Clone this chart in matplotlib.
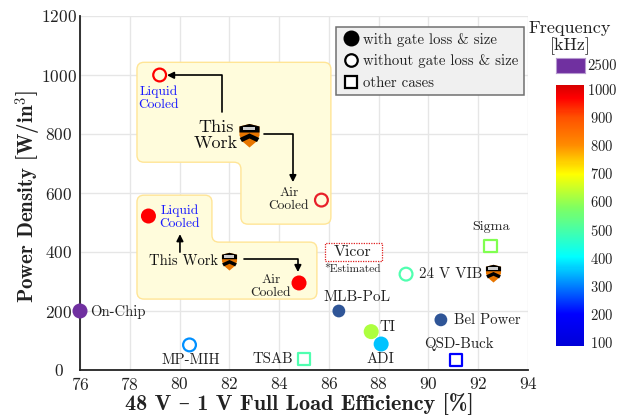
import numpy as np
import matplotlib
matplotlib.use('Agg')
import matplotlib.pyplot as plt
from matplotlib.path import Path
from matplotlib.patches import PathPatch, Rectangle
from matplotlib.lines import Line2D
from matplotlib.cm import ScalarMappable
from matplotlib.colors import LinearSegmentedColormap, Normalize

plt.rcParams['font.family'] = ['cmr10', 'DejaVu Serif']
plt.rcParams['mathtext.fontset'] = 'cm'
plt.rcParams['axes.unicode_minus'] = False
plt.rcParams['axes.formatter.use_mathtext'] = True

# filled circles: with gate loss & size
filled_x = [78.75, 84.8, 76.0, 86.4, 87.7, 88.1, 90.5]
filled_y = [522, 295, 200, 200, 130, 88, 170]
filled_c = ['#ff0000', '#ff0000', '#7030a0', '#2f5597', '#adff3f', '#00c3ff', '#2f5597']
filled_s = [117, 117, 117, 85, 117, 117, 85]

# open circles: without gate loss & size
open_x = [79.2, 85.7, 80.4, 89.1]
open_y = [1000, 576, 85, 325]
open_c = ['#ff0000', '#e8202a', '#0090ff', '#50ffb0']

# squares: other cases
square_x = [85.0, 91.1, 92.5]
square_y = [37, 33, 420]
square_c = ['#50ffb0', '#0000ff', '#80ff50']

# princeton shield positions
shield_x = [82.8, 82.0, 92.6]
shield_y = [797, 370, 330]
shield_s = [300, 170, 170]

freq_ticks = [100, 200, 300, 400, 500, 600, 700, 800, 900, 1000]
jet_colors = ['#0000d8', '#0000ff', '#00ffff', '#80ff60', '#ffff00', '#ff8c00', '#ff5000', '#ff0000', '#d80000']
jet_stops = [0.0, 0.12, 0.34, 0.53, 0.66, 0.77, 0.88, 0.95, 1.0]


def px(x, y):
    # reference pixel -> data coords
    return 76 + (x - 80) / 24.9, (370 - y) / 0.2953


fig = plt.figure(figsize=(6.25, 4.16), dpi=100)
ax = fig.add_axes([80 / 625, 46 / 416, 448 / 625, 354 / 416])
ax.set_xlim(76, 94)
ax.set_ylim(0, 1200)
ax.set_xticks(range(76, 95, 2))
ax.set_yticks(range(0, 1201, 200))
ax.grid(color='#e6e6e6', lw=1)
ax.set_axisbelow(True)
ax.tick_params(length=0, labelsize=12.5, labelcolor='#222222')
ax.tick_params(axis='x', pad=4.5)
ax.tick_params(axis='y', pad=15.5)
for t in ax.get_yticklabels():
    t.set_ha('center')
for s in ['top', 'right']:
    ax.spines[s].set_visible(False)
for s in ['left', 'bottom']:
    ax.spines[s].set_linewidth(1.3)
    ax.spines[s].set_color('#222222')
ax.set_xlabel('48 V \u2013 1 V Full Load Efficiency [%]', family=['cmb10', 'DejaVu Serif'], fontsize=16, labelpad=0, color='#222222', x=0.49)
ax.set_ylabel('Power Density [W/in$^3$]', family=['cmb10', 'DejaVu Serif'], fontsize=15, color='#222222')
ax.yaxis.set_label_coords(-36 / 448, 0.49)


# yellow regions
def region(pts):
    # rounded outline from corner points
    verts, codes = [], []
    r = 7
    n = len(pts)
    for i in range(n):
        p = np.array(pts[i], float)
        a = np.array(pts[i - 1], float)
        b = np.array(pts[(i + 1) % n], float)
        p1 = p + (a - p) / np.linalg.norm(a - p) * r
        p2 = p + (b - p) / np.linalg.norm(b - p) * r
        verts += [p1, p, p2]
        codes += [Path.LINETO, Path.CURVE3, Path.CURVE3]
    codes[0] = Path.MOVETO
    verts.append(verts[0])
    codes.append(Path.CLOSEPOLY)
    verts = [px(*v) for v in verts]
    ax.add_patch(PathPatch(Path(verts, codes), fc='#fffcdc', ec='#ffe596', lw=1, zorder=1.5))


region([(137, 62), (331, 62), (331, 224), (241, 224), (241, 162), (137, 162)])
region([(137, 195), (212, 195), (212, 242), (317, 242), (317, 299), (137, 299)])

ax.scatter(filled_x, filled_y, s=filled_s, c=filled_c, zorder=3, clip_on=False, linewidths=0)
ax.scatter(open_x, open_y, s=85, facecolors='none', edgecolors=open_c, linewidths=1.6, zorder=3)
ax.scatter(square_x, square_y, s=80, marker='s', facecolors='none', edgecolors=square_c, linewidths=1.6, zorder=3)


# shield logo, each piece starts at the same far point so markers keep one scale
def shield_piece(pts):
    verts = [(0, -1.2)] + pts
    codes = [Path.MOVETO, Path.MOVETO] + [Path.LINETO] * (len(pts) - 1)
    return Path(verts, codes)


body = shield_piece([(-1, 0.9), (0, 1.15), (1, 0.9), (1, 0), (0.7, -0.6), (0, -1.2), (-0.7, -0.6), (-1, 0), (-1, 0.9)])
top = shield_piece([(-1, 0.9), (0, 1.15), (1, 0.9), (1, 0.3), (-1, 0.3), (-1, 0.9)])
chev = shield_piece([(-0.98, -0.25), (0, 0.2), (0.98, -0.25), (0.75, -0.65), (0, -0.3), (-0.75, -0.65), (-0.98, -0.25)])
book = shield_piece([(-0.6, 0.8), (0.6, 0.8), (0.6, 0.45), (-0.6, 0.45), (-0.6, 0.8)])
for sx, sy, s in zip(shield_x, shield_y, shield_s):
    ax.scatter([sx], [sy], s=s, marker=body, c='#e77500', linewidths=0, zorder=4)
    ax.scatter([sx], [sy], s=s, marker=top, c='black', linewidths=0, zorder=4.1)
    ax.scatter([sx], [sy], s=s, marker=chev, c='black', linewidths=0, zorder=4.1)
    ax.scatter([sx], [sy], s=s, marker=book, c='#cccccc', linewidths=0, zorder=4.2)


def arrow(start, end, conn):
    ax.annotate('', xy=px(*end), xytext=px(*start), zorder=5,
                arrowprops=dict(arrowstyle='-|>', color='black', lw=1.2, shrinkA=0, shrinkB=0,
                                mutation_scale=10, connectionstyle=conn))


arrow((222, 112), (167, 75), 'angle,angleA=90,angleB=0,rad=0')
arrow((264, 134), (293, 182), 'angle,angleA=0,angleB=90,rad=0')
arrow((180, 252), (180, 234), 'arc3')
arrow((244, 259), (298, 272), 'angle,angleA=0,angleB=90,rad=0')


def label(x, y, s, size=10.7, color='#222222', **kw):
    ax.text(*px(x, y), s, fontsize=size, color=color, ha='center', va='center', zorder=6, **kw)


label(159, 98, 'Liquid\nCooled', 9.7, '#1a1aff', linespacing=1.1)
label(216, 135, 'This\nWork', 13, '#111111', linespacing=1.1)
label(289, 199, 'Air\nCooled', 9.7, linespacing=1.1)
label(180, 217, 'Liquid\nCooled', 9.7, '#1a1aff', linespacing=1.1)
label(184, 261, 'This Work', 10.5, '#111111')
label(271, 286, 'Air\nCooled', 9.7, linespacing=1.1)
label(353, 252, 'Vicor', 11.5)
label(353, 269, '*Estimated', 8.3)
label(118, 312, 'On-Chip', 10.5)
label(191, 360, 'MP-MIH', 10.7)
label(273, 359, 'TSAB', 10.7)
label(357, 297, 'MLB-PoL', 11)
label(388, 327, 'TI', 10.7)
label(381, 359, 'ADI', 10.7)
label(487, 320, 'Bel Power', 10.7)
label(459, 344, 'QSD-Buck', 10.7)
label(451, 274, '24 V VIB', 10.8)
label(491, 227, 'Sigma', 10.2)

x0, y0 = px(325, 261)
x1, y1 = px(382, 243)
ax.add_patch(Rectangle((x0, y0), x1 - x0, y1 - y0, fc='white', ec='#e02020', lw=0.9, ls=(0, (1, 1)), zorder=2))

# legend
handles = [
    Line2D([], [], marker='o', ls='', mfc='black', mec='black', ms=10.5),
    Line2D([], [], marker='o', ls='', mfc='white', mec='black', mew=1.6, ms=9),
    Line2D([], [], marker='s', ls='', mfc='white', mec='black', mew=1.6, ms=8.5),
]
leg = ax.legend(handles, ['with gate loss & size', 'without gate loss & size', 'other cases'],
                loc='upper left', bbox_to_anchor=((336 - 80) / 448, (370 - 27) / 354), borderaxespad=0,
                fontsize=10.7, fancybox=False, framealpha=1, facecolor='#f0f0f0', edgecolor='#707070',
                labelspacing=0.52, handletextpad=0.2, borderpad=0.38, handlelength=1.25)
leg.set_zorder(7)
leg.get_frame().set_linewidth(1.1)
for t in leg.get_texts():
    t.set_color('#222222')

# frequency scale
fig.text(570 / 625, 1 - 38 / 416, 'Frequency\n[kHz]', ha='center', va='center', fontsize=13, color='#222222', linespacing=1.1)

cax2 = fig.add_axes([556 / 625, 1 - 73 / 416, 29 / 625, 15 / 416])
cax2.set_facecolor('#7030a0')
cax2.set_xticks([])
cax2.set_yticks([])
for s in cax2.spines.values():
    s.set_color('#b79ad0')
fig.text(602 / 625, 1 - 66 / 416, '2500', fontsize=10.5, va='center', ha='center', color='#222222')

cmap = LinearSegmentedColormap.from_list('freq', list(zip(jet_stops, jet_colors)))
cax = fig.add_axes([556 / 625, 1 - 346 / 416, 28 / 625, 261 / 416])
cb = fig.colorbar(ScalarMappable(Normalize(85, 1015), cmap), cax=cax, ticks=freq_ticks)
cb.outline.set_visible(False)
cb.ax.tick_params(length=0, labelsize=10.5, labelcolor='#222222', pad=13)
for t in cb.ax.get_yticklabels():
    t.set_ha('center')

fig.savefig('out.png', dpi=100)
